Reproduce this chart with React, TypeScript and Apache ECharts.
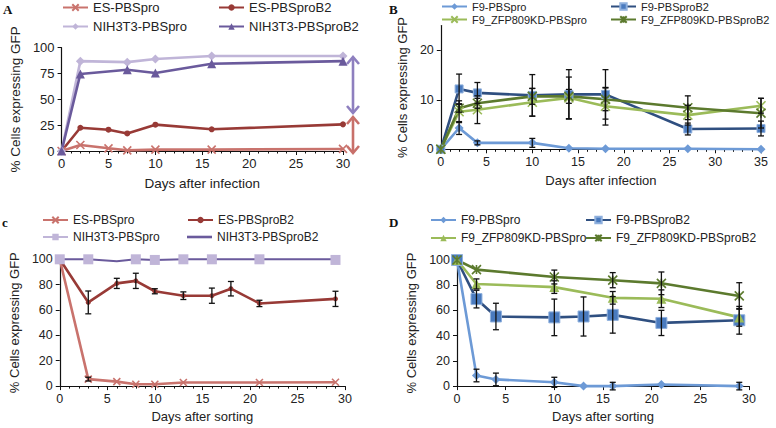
import React, { useEffect, useRef } from "react";
import * as echarts from "echarts";

// ---------- Panel A (days after infection) ----------
const daysA_ES = [0, 2, 5, 7, 10, 16, 30];
const esPro_A = [0, 5.8, 2.6, 0.6, 1.3, 1.3, 2];
const esB2_A = [0, 22.5, 20.6, 17, 25.5, 21, 25.8];
const daysA_NIH = [0, 2, 7, 10, 16, 30];
const nihPro_A = [0, 87, 86, 89, 92, 92];
const nihB2_A = [0, 74.5, 78.7, 75.5, 84.5, 87];

// ---------- Panel B (days after infection) ----------
const daysB = [0, 2, 4, 10, 14, 18, 27, 35];
const f9Pro_B = [0, 4.3, 1.3, 1.3, 0.2, 0.1, 0.1, 0];
const f9ProErr_B = [0, 1.3, 0.4, 0.9, 0, 0, 0, 0];
const f9B2_B = [0, 12.2, 11.4, 10.9, 11.1, 11.1, 4.1, 4.2];
const f9B2Err_B = [0, 3.0, 2.1, 4.2, 5.0, 5.0, 1.2, 1.5];
const zfpPro_B = [0, 7.6, 8.0, 9.5, 10.4, 8.7, 6.9, 8.8];
const zfpProErr_B = [0, 2.2, 2.8, 2.8, 4.2, 3.8, 2.0, 1.5];
const zfpB2_B = [0, 8.3, 9.3, 10.7, 10.7, 10.1, 8.4, 7.3];
const zfpB2Err_B = [0, 0.8, 1.0, 1.6, 1.4, 2.3, 2.4, 3.0];

// ---------- Panel C (days after sorting) ----------
const daysC_B2 = [0, 3, 6, 8, 10, 13, 16, 18, 21, 29];
const esB2_C = [100, 66, 81, 83, 74.8, 71.3, 71.3, 76.8, 65.2, 68.8];
const esB2Err_C = [0, 9, 4, 6, 2, 3, 6, 5.7, 2.5, 6];
const daysC_Pro = [0, 3, 6, 8, 10, 13, 21, 29];
const esPro_C = [100, 5.5, 3.5, 1.5, 1.5, 2.8, 2.8, 3];
const esProErr_C = [0, 1.5, 0, 0, 0, 0, 0, 0];
const daysC_NIHpro = [0, 3, 8, 10, 13, 16, 21, 29];
const nihPro_C = [100, 100, 100, 99.5, 100, 100, 100, 99.5];
const daysC_NIHB2 = [0, 3, 6, 8, 10, 13, 16, 21, 29];
const nihB2_C = [100, 100, 98.5, 100, 99.5, 100, 100, 100, 100];

// ---------- Panel D (days after sorting) ----------
const daysD = [0, 2, 4, 10, 13, 16, 21, 29];
const f9Pro_D = [100, 8.4, 5.3, 3, 0, 0, 1.3, 0];
const f9ProErr_D = [0, 5, 5, 4, 0, 3, 0, 3];
const f9B2_D = [100, 69, 55.2, 54.5, 55.2, 56.5, 50.1, 52.2];
const f9B2Err_D = [0, 7, 10.5, 14.5, 15.5, 14.5, 10, 11];
const daysD_ZFP = [0, 2, 10, 16, 21, 29];
const zfpPro_D = [100, 81, 78.5, 70, 69.3, 54.5];
const zfpProErr_D = [0, 4, 5, 5, 7, 7];
const zfpB2_D = [100, 92.4, 86.5, 84, 81.5, 71.5];
const zfpB2Err_D = [0, 0, 5.5, 6, 9, 10.5];

const FONT = "Liberation Sans, Arial, Helvetica, sans-serif";
const TXT = "#222";

const C_ESPRO = "#c9736d";
const C_ESB2 = "#983a36";
const C_NIHPRO = "#c0b5d8";
const C_NIHB2 = "#6a5a9c";
const C_F9PRO = "#6d9ad6";
const C_F9B2 = "#2f4f80";
const C_F9B2_FILL = "#4a7bbf";
const C_ZFPPRO = "#9bbb59";
const C_ZFPB2 = "#5c7a2e";

const SYM_X = "path://M0 0L10 10M10 0L0 10";
const SYM_AST = "path://M0 0L10 10M10 0L0 10M5 0L5 10";

function lineSeries(
  name: string,
  days: number[],
  vals: number[],
  color: string,
  symbol: string,
  size: number,
  opts: any = {}
) {
  const isPath = symbol.startsWith("path://");
  return {
    type: "line",
    name,
    data: days.map((d, i) => [d, vals[i]]),
    symbol,
    symbolSize: size,
    showSymbol: symbol !== "none",
    lineStyle: { color, width: opts.width ?? 2.6 },
    itemStyle: isPath
      ? { color, borderColor: color, borderWidth: 1.6 }
      : {
          color: opts.fill ?? color,
          borderColor: opts.border ?? color,
          borderWidth: opts.borderWidth ?? 0,
        },
    z: opts.z ?? 3,
    clip: false,
  };
}

function errSeries(days: number[], vals: number[], errs: number[]) {
  const data: number[][] = [];
  days.forEach((d, i) => {
    if (errs[i] > 0) data.push([d, vals[i] - errs[i], vals[i] + errs[i]]);
  });
  return {
    type: "custom",
    name: "",
    data,
    z: 6,
    clip: false,
    renderItem: (params: any, api: any) => {
      const x = api.value(0);
      const lo = api.value(1);
      const hi = api.value(2);
      const p1 = api.coord([x, hi]);
      const p2 = api.coord([x, lo]);
      const w = 3;
      const st = { stroke: "#111", lineWidth: 1.3 };
      return {
        type: "group",
        children: [
          { type: "line", shape: { x1: p1[0], y1: p1[1], x2: p2[0], y2: p2[1] }, style: st },
          { type: "line", shape: { x1: p1[0] - w, y1: p1[1], x2: p1[0] + w, y2: p1[1] }, style: st },
          { type: "line", shape: { x1: p2[0] - w, y1: p2[1], x2: p2[0] + w, y2: p2[1] }, style: st },
        ],
      };
    },
  };
}

function legendItem(name: string, textLeft: number, centerY: number, fontSize: number, lineOnly = false) {
  return {
    left: textLeft - 30,
    top: centerY - 7,
    padding: 0,
    itemWidth: 25,
    itemHeight: lineOnly ? 2.6 : 8,
    itemGap: 0,
    selectedMode: false,
    data: [lineOnly ? { name, icon: "rect" } : name],
    textStyle: { fontSize, color: TXT, fontFamily: FONT },
  };
}

function xAxis(max: number, name: string, fontSize: number, minor: boolean, nameGap: number) {
  return {
    type: "value",
    min: 0,
    max,
    interval: 5,
    name,
    nameLocation: "middle",
    nameGap,
    nameTextStyle: { fontSize: fontSize + 0.5, color: TXT, fontFamily: FONT },
    axisLine: { show: true, onZero: false, lineStyle: { color: "#111", width: 1.2 } },
    axisTick: { show: true, length: 4, lineStyle: { color: "#111", width: 1 } },
    minorTick: { show: minor, splitNumber: 5, length: 2.5, lineStyle: { color: "#111", width: 1 } },
    axisLabel: { fontSize, color: TXT, fontFamily: FONT, margin: 6 },
    splitLine: { show: false },
    minorSplitLine: { show: false },
  };
}

function yAxis(max: number, interval: number, fontSize: number, nameGap: number, extra: any = {}) {
  return {
    type: "value",
    min: 0,
    max,
    interval,
    name: "% Cells expressing GFP",
    nameLocation: "middle",
    nameGap,
    nameTextStyle: { fontSize: fontSize + 0.5, color: TXT, fontFamily: FONT },
    axisLine: { show: true, lineStyle: { color: "#111", width: 1.2 } },
    axisTick: { show: true, length: 4, lineStyle: { color: "#111", width: 1 }, ...(extra.axisTick || {}) },
    axisLabel: { fontSize, color: TXT, fontFamily: FONT, margin: 7, ...(extra.axisLabel || {}) },
    splitLine: { show: false },
  };
}

function panelLetter(t: string, x: number, y: number) {
  return {
    type: "text",
    left: x,
    top: y,
    style: { text: t, fontFamily: "Liberation Serif, DejaVu Serif, serif", fontWeight: "bold", fontSize: 13, fill: "#111" },
  };
}

function arrow(x: number, y1: number, y2: number, color: string) {
  const h = 7;
  const w = 6;
  const st = { stroke: color, lineWidth: 2.6, fill: "none" };
  return [
    { type: "line", shape: { x1: x, y1: y1 + 1, x2: x, y2: y2 - 1 }, style: st },
    { type: "polyline", shape: { points: [[x - w, y1 + h], [x, y1], [x + w, y1 + h]] }, style: st },
    { type: "polyline", shape: { points: [[x - w, y2 - h], [x, y2], [x + w, y2 - h]] }, style: st },
  ];
}

function optionA() {
  return {
    animation: false,
    backgroundColor: "#fff",
    grid: { left: 48, right: 45, top: 47.7, bottom: 63 },
    xAxis: xAxis(30, "Days after infection", 13, true, 25),
    yAxis: yAxis(100, 25, 13, 30),
    legend: [
      legendItem("ES-PBSpro", 92, 8, 13),
      legendItem("ES-PBSproB2", 248, 8, 13),
      legendItem("NIH3T3-PBSpro", 92, 27, 13),
      legendItem("NIH3T3-PBSproB2", 248, 27, 13),
    ],
    series: [
      lineSeries("ES-PBSpro", daysA_ES, esPro_A, C_ESPRO, SYM_X, 8),
      lineSeries("ES-PBSproB2", daysA_ES, esB2_A, C_ESB2, "circle", 6),
      lineSeries("NIH3T3-PBSpro", daysA_NIH, nihPro_A, C_NIHPRO, "diamond", 9),
      lineSeries("NIH3T3-PBSproB2", daysA_NIH, nihB2_A, C_NIHB2, "triangle", 9),
    ],
    graphic: [
      panelLetter("A", 3, 3),
      ...arrow(353, 57, 113, "#8e7fbf"),
      ...arrow(353, 117, 153, "#c8706a"),
    ],
  };
}

function optionB() {
  return {
    animation: false,
    backgroundColor: "#fff",
    grid: { left: 48, right: 15, top: 25.6, bottom: 64.7 },
    xAxis: xAxis(35, "Days after infection", 12.5, true, 25),
    yAxis: yAxis(25, 10, 12.5, 30, {
      axisLabel: { customValues: [0, 10, 20], formatter: (v: number) => (v === 25 ? "" : String(v)) },
      axisTick: { customValues: [0, 10, 20] },
    }),
    legend: [
      legendItem("F9-PBSpro", 83, 8, 11),
      legendItem("F9-PBSproB2", 252, 8, 11),
      legendItem("F9_ZFP809KD-PBSpro", 83, 21, 11),
      legendItem("F9_ZFP809KD-PBSproB2", 252, 21, 11),
    ],
    series: [
      lineSeries("F9-PBSpro", daysB, f9Pro_B, C_F9PRO, "diamond", 9),
      lineSeries("F9-PBSproB2", daysB, f9B2_B, C_F9B2, "rect", 8, { fill: C_F9B2_FILL, border: "#8fb0dd", borderWidth: 1 }),
      lineSeries("F9_ZFP809KD-PBSpro", daysB, zfpPro_B, C_ZFPPRO, SYM_X, 9),
      lineSeries("F9_ZFP809KD-PBSproB2", daysB, zfpB2_B, C_ZFPB2, SYM_AST, 9),
      errSeries(daysB, f9Pro_B, f9ProErr_B),
      errSeries(daysB, f9B2_B, f9B2Err_B),
      errSeries(daysB, zfpPro_B, zfpProErr_B),
      errSeries(daysB, zfpB2_B, zfpB2Err_B),
    ],
    graphic: [panelLetter("B", 1, 3)],
  };
}

function optionC() {
  return {
    animation: false,
    backgroundColor: "#fff",
    grid: { left: 49, right: 43, top: 45.3, bottom: 36.3 },
    xAxis: xAxis(30, "Days after sorting", 12.5, true, 20),
    yAxis: yAxis(100, 20, 12.5, 31),
    legend: [
      legendItem("ES-PBSpro", 72, 7, 12),
      legendItem("ES-PBSproB2", 217, 7, 12),
      legendItem("NIH3T3-PBSpro", 72, 24, 12),
      legendItem("NIH3T3-PBSproB2", 217, 24, 12, true),
    ],
    series: [
      lineSeries("ES-PBSpro", daysC_Pro, esPro_C, C_ESPRO, SYM_X, 7),
      lineSeries("ES-PBSproB2", daysC_B2, esB2_C, C_ESB2, "circle", 5),
      lineSeries("NIH3T3-PBSproB2", daysC_NIHB2, nihB2_C, C_NIHB2, "none", 0, { width: 2 }),
      lineSeries("NIH3T3-PBSpro", daysC_NIHpro, nihPro_C, C_NIHPRO, "rect", 10, { width: 0.01, z: 4 }),
      errSeries(daysC_B2, esB2_C, esB2Err_C),
      errSeries(daysC_Pro, esPro_C, esProErr_C),
    ],
    graphic: [panelLetter("c", 2, 2)],
  };
}

function optionD() {
  return {
    animation: false,
    backgroundColor: "#fff",
    grid: { left: 69, right: 27, top: 46, bottom: 37 },
    xAxis: xAxis(30, "Days after sorting", 12.5, false, 20),
    yAxis: yAxis(100, 20, 12.5, 31),
    legend: [
      legendItem("F9-PBSpro", 72, 7, 12),
      legendItem("F9-PBSproB2", 227, 7, 12),
      legendItem("F9_ZFP809KD-PBSpro", 72, 25, 12),
      legendItem("F9_ZFP809KD-PBSproB2", 227, 25, 12),
    ],
    series: [
      lineSeries("F9-PBSpro", daysD, f9Pro_D, C_F9PRO, "diamond", 9),
      lineSeries("F9-PBSproB2", daysD, f9B2_D, C_F9B2, "rect", 11, { fill: C_F9B2_FILL, border: "#8fb0dd", borderWidth: 1 }),
      lineSeries("F9_ZFP809KD-PBSpro", daysD_ZFP, zfpPro_D, C_ZFPPRO, "triangle", 10),
      lineSeries("F9_ZFP809KD-PBSproB2", daysD_ZFP, zfpB2_D, C_ZFPB2, SYM_AST, 9),
      errSeries(daysD, f9Pro_D, f9ProErr_D),
      errSeries(daysD, f9B2_D, f9B2Err_D),
      errSeries(daysD_ZFP, zfpPro_D, zfpProErr_D),
      errSeries(daysD_ZFP, zfpB2_D, zfpB2Err_D),
    ],
    graphic: [panelLetter("D", 1, 2)],
  };
}

export default function App() {
  const refA = useRef<HTMLDivElement>(null);
  const refB = useRef<HTMLDivElement>(null);
  const refC = useRef<HTMLDivElement>(null);
  const refD = useRef<HTMLDivElement>(null);

  useEffect(() => {
    const pairs: [HTMLDivElement | null, any][] = [
      [refA.current, optionA()],
      [refB.current, optionB()],
      [refC.current, optionC()],
      [refD.current, optionD()],
    ];
    const charts = pairs.map(([el, opt]) => {
      const c = echarts.init(el as HTMLDivElement, undefined, { renderer: "svg" });
      c.setOption(opt);
      return c;
    });
    return () => charts.forEach((c) => c.dispose());
  }, []);

  const box = (left: number, top: number): React.CSSProperties => ({
    position: "absolute",
    left,
    top,
    width: 388,
    height: 214,
  });

  return (
    <div style={{ position: "absolute", left: 0, top: 0, width: 776, height: 428, background: "#fff", overflow: "hidden" }}>
      <div ref={refA} style={box(0, 0)} />
      <div ref={refB} style={box(388, 0)} />
      <div ref={refC} style={box(0, 214)} />
      <div ref={refD} style={box(388, 214)} />
    </div>
  );
}
